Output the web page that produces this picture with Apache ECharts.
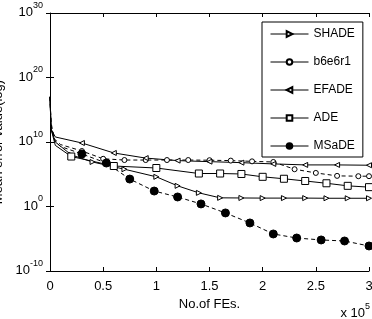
<!DOCTYPE html>
<html>
<head>
<meta charset="utf-8">
<script src="https://cdn.jsdelivr.net/npm/echarts@6/dist/echarts.min.js"></script>
<style>
html, body { margin: 0; padding: 0; background: #fff; }
#main { width: 372px; height: 319px; }
</style>
</head>
<body>
<div id="main"></div>
<script>
'use strict';

// x values are FEs in units of 1e5, y values are mean errors
let shadeX = [0, 0.01, 0.05, 0.2, 0.4, 0.7, 1.0, 1.2, 1.4, 1.6, 1.8, 2.0, 2.2, 2.4, 2.6, 2.8, 3.0];
let shadeY = [1e17, 1e12, 1e10, 1e8, 8e6, 6e5, 4e4, 1.6e3, 1.3e2, 22, 21, 20, 20, 20, 19, 19, 19];

let b6e6r1X = [0, 0.01, 0.04, 0.1, 0.3, 0.5, 0.7, 0.9, 1.1, 1.3, 1.5, 1.7, 1.9, 2.1, 2.3, 2.5, 2.7, 2.9, 3.0];
let b6e6r1Y = [1e17, 1e13, 3e10, 4e9, 4e8, 2.5e7, 1.6e7, 1.6e7, 1.6e7, 1.6e7, 1.5e7, 1.3e7, 1e7, 8e6, 6e5, 1.6e5, 5.6e4, 5e4, 5e4];

let efadeX = [0, 0.01, 0.05, 0.3, 0.6, 0.9, 1.2, 1.5, 1.8, 2.1, 2.4, 2.7, 3.0];
let efadeY = [1e17, 1e12, 6e10, 7e9, 2e8, 3.2e7, 1.3e7, 9e6, 6.3e6, 4e6, 2.8e6, 2.8e6, 2.5e6];

let adeX = [0, 0.01, 0.05, 0.2, 0.6, 1.0, 1.4, 1.6, 1.8, 2.0, 2.2, 2.4, 2.6, 2.8, 3.0];
let adeY = [1e17, 1e12, 3e9, 5.6e7, 1.9e6, 9.3e5, 1.3e5, 1.3e5, 1.1e5, 4e4, 2e4, 9e3, 4e3, 1.6e3, 1e3];

let msadeX = [0, 0.01, 0.05, 0.1, 0.3, 0.53, 0.75, 0.98, 1.2, 1.42, 1.65, 1.88, 2.1, 2.32, 2.55, 2.77, 3.0];
let msadeY = [1e17, 3e12, 1e10, 2e9, 1.4e8, 5.5e6, 1.8e4, 2.5e2, 30, 2.5, 0.1, 2.8e-3, 5.5e-5, 1.3e-5, 6.5e-6, 4.5e-6, 7.6e-7];

let names = ['SHADE', 'b6e6r1', 'EFADE', 'ADE', 'MSaDE'];

let myChart = echarts.init(document.getElementById('main'));

let font = 'Liberation Sans';

// no markers on the first steep drop next to the y axis
function pts(xs, ys) {
	let out = [];
	for (let i = 0; i < xs.length; i++) {
		let p = { value: [xs[i], ys[i]] };
		if (xs[i] < 0.15) p.symbol = 'none';
		out.push(p);
	}
	return out;
}

function pow10(v) {
	let e = Math.round(Math.log10(v));
	return '{b|10}{s|' + e + '}';
}

let supRich = {
	b: { fontSize: 13, lineHeight: 18, verticalAlign: 'bottom', fontFamily: font, color: '#000' },
	s: { fontSize: 9, lineHeight: 18, verticalAlign: 'top', fontFamily: font, color: '#000' }
};

function line(name, xs, ys, symbol, size, rotate, fill, dashed) {
	return {
		name: name,
		type: 'line',
		data: pts(xs, ys),
		symbol: symbol,
		symbolSize: size,
		symbolRotate: rotate,
		showAllSymbol: true,
		itemStyle: { color: fill, borderColor: '#000', borderWidth: 1 },
		lineStyle: { color: '#000', width: 1, type: dashed ? [4, 3] : 'solid' },
		emphasis: { disabled: true },
		z: 3
	};
}

let boxTick = { show: true, inside: true, length: 4, lineStyle: { color: '#000' } };

let option = {
	animation: false,
	backgroundColor: '#fff',
	textStyle: { fontFamily: font },
	grid: { left: 50, right: 3, top: 13, bottom: 48, outerBoundsMode: 'none', containLabel: false },
	legend: {
		data: names,
		orient: 'vertical',
		left: 262,
		top: 22,
		padding: [6, 8, 5, 8],
		itemWidth: 38,
		itemHeight: 7,
		itemGap: 16,
		borderColor: '#000',
		borderWidth: 1,
		backgroundColor: '#fff',
		lineStyle: { type: 'solid', width: 1 },
		textStyle: { fontFamily: font, fontSize: 12, color: '#000' }
	},
	xAxis: [{
		type: 'value',
		min: 0,
		max: 3,
		interval: 0.5,
		name: 'No.of FEs.',
		nameLocation: 'middle',
		nameGap: 25,
		nameTextStyle: { fontFamily: font, fontSize: 13, color: '#000' },
		axisLine: { lineStyle: { color: '#000' } },
		axisTick: boxTick,
		splitLine: { show: false },
		axisLabel: { margin: 9, fontFamily: font, fontSize: 13, color: '#000', formatter: v => String(v) }
	}, {
		type: 'value',
		position: 'top',
		min: 0,
		max: 3,
		interval: 0.5,
		axisLine: { show: true, lineStyle: { color: '#000' } },
		axisTick: boxTick,
		splitLine: { show: false },
		axisLabel: { show: false }
	}],
	yAxis: [{
		type: 'log',
		logBase: 10,
		min: 1e-10,
		max: 1e30,
		interval: 10,
		name: 'Mean error value(log)',
		nameLocation: 'middle',
		nameGap: 35,
		nameTextStyle: { fontFamily: font, fontSize: 13, color: '#000' },
		axisLine: { show: true, lineStyle: { color: '#000' } },
		axisTick: boxTick,
		splitLine: { show: false },
		axisLabel: { margin: 7, padding: [0, 0, 6, 0], formatter: pow10, rich: supRich }
	}, {
		type: 'log',
		logBase: 10,
		position: 'right',
		min: 1e-10,
		max: 1e30,
		interval: 10,
		axisLine: { show: false },
		axisTick: boxTick,
		splitLine: { show: false },
		axisLabel: { show: false }
	}],
	graphic: [{
		type: 'text',
		right: 2,
		top: 302,
		style: {
			text: '{b|x 10}{s|5}',
			rich: supRich
		}
	}],
	series: [
		line('SHADE', shadeX, shadeY, 'triangle', 5, -90, '#fff', false),
		line('b6e6r1', b6e6r1X, b6e6r1Y, 'circle', 5, 0, '#fff', true),
		line('EFADE', efadeX, efadeY, 'triangle', 5, 90, '#fff', false),
		line('ADE', adeX, adeY, 'rect', 7, 0, '#fff', false),
		line('MSaDE', msadeX, msadeY, 'circle', 8, 0, '#000', true)
	]
};

myChart.setOption(option);
</script>
</body>
</html>
